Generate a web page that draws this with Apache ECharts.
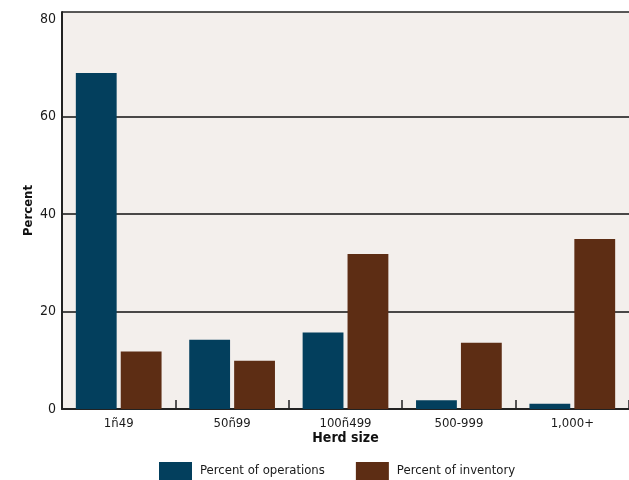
<!DOCTYPE html>
<html>
<head>
<meta charset="utf-8">
<script src="https://cdn.jsdelivr.net/npm/echarts@6/dist/echarts.min.js"></script>
<style>
  html, body { margin: 0; padding: 0; background: #ffffff; }
  #chart { width: 629px; height: 480px; }
</style>
</head>
<body>
<div id="chart"></div>
<script>
// Herd-size groups and the two shares for each
const categories = ['1ñ49', '50ñ99', '100ñ499', '500-999', '1,000+'];
const operations = [69.0, 14.2, 15.7, 1.8, 1.1];
const inventory = [11.8, 9.9, 31.8, 13.6, 34.9];
const yTicks = [0, 20, 40, 60, 80];

const FONT = '"Liberation Sans Narrow", "Arial Narrow", "DejaVu Sans Condensed", sans-serif';
const BLUE = '#033f5d';
const BROWN = '#5d2d14';
const INK = '#1a1a1a';

// Split lines at 0..60 are drawn, the one at 80 is hidden; the top one frames the plot
const splitColors = ['#111', '#111', '#111', '#111', 'rgba(0,0,0,0)', '#222'];

const chart = echarts.init(document.getElementById('chart'));
chart.setOption({
  animation: false,
  backgroundColor: '#ffffff',
  textStyle: { fontFamily: FONT, color: INK },
  grid: {
    left: 62, right: 0, top: 12, bottom: 71,
    show: true, backgroundColor: '#f3efec', borderWidth: 0
  },
  legend: {
    data: ['Percent of operations', 'Percent of inventory'],
    left: 154, top: 457,
    itemWidth: 33, itemHeight: 18, itemGap: 31,
    icon: 'rect',
    textStyle: { fontFamily: FONT, fontSize: 13, color: INK, padding: [0, 0, 0, 3] }
  },
  xAxis: {
    type: 'category',
    data: categories,
    name: 'Herd size',
    nameLocation: 'middle',
    nameGap: 22,
    nameMoveOverlap: false,
    nameTextStyle: { fontFamily: FONT, fontSize: 14, fontWeight: 'bold', color: '#111' },
    axisLine: { lineStyle: { color: '#222', width: 2 } },
    axisTick: { show: true, inside: true, length: 9, lineStyle: { color: '#222', width: 1.5 } },
    axisLabel: { fontFamily: FONT, fontSize: 13, color: INK, margin: 8 },
    splitLine: { show: false }
  },
  yAxis: {
    type: 'value',
    min: 0, max: 81.5, interval: 20,
    name: 'Percent',
    nameLocation: 'middle',
    nameGap: 27,
    nameMoveOverlap: false,
    nameRotate: 90,
    nameTextStyle: { fontFamily: FONT, fontSize: 13, fontWeight: 'bold', color: '#111' },
    axisLine: { show: true, lineStyle: { color: '#222', width: 2 } },
    axisTick: { show: false },
    axisLabel: {
      fontFamily: FONT, fontSize: 14, color: INK, margin: 6,
      formatter: v => (yTicks.indexOf(v) >= 0 ? String(v) : '')
    },
    splitLine: { show: true, lineStyle: { color: splitColors, width: 1.5 } }
  },
  series: [
    {
      name: 'Percent of operations', type: 'bar', data: operations,
      itemStyle: { color: BLUE }, barWidth: '36%', barGap: '10%'
    },
    {
      name: 'Percent of inventory', type: 'bar', data: inventory,
      itemStyle: { color: BROWN }, barWidth: '36%', barGap: '10%'
    }
  ]
});
</script>
</body>
</html>
